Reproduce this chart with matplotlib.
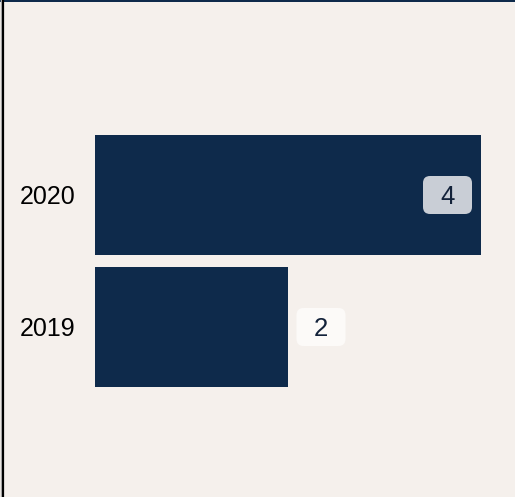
import matplotlib
matplotlib.use("Agg")
import matplotlib.pyplot as plt
import matplotlib.transforms as mtransforms
from matplotlib.patches import FancyBboxPatch, Rectangle
from matplotlib.lines import Line2D

# --- data ---
years = ["2019", "2020"]
counts = [2, 4]

navy = "#0e2a4b"
bg = "#f5f0ec"

plt.rcParams["font.family"] = ["Liberation Sans", "DejaVu Sans"]

W, H = 515, 497
fig = plt.figure(figsize=(W / 100, H / 100), dpi=100, facecolor=bg)

# axes placed in pixel terms: x0 at 95px, 96.5 px per unit; 132 px per category
x_left = 95
x_right = 95 + 4.3 * 96.5
y_top = 63
y_bottom = 63 + 3 * 132
ax = fig.add_axes([x_left / W, 1 - y_bottom / H, (x_right - x_left) / W, (y_bottom - y_top) / H])
ax.set_facecolor(bg)

ypos = list(range(len(years)))
ax.barh(ypos, counts, height=0.91, color=navy)
ax.set_xlim(0, 4.3)
ax.set_ylim(-1, 2)
ax.set_yticks(ypos)
ax.set_yticklabels(years, fontsize=18, color="black")
ax.tick_params(axis="y", length=0, pad=14)
ax.set_xticks([])
for s in ax.spines.values():
    s.set_visible(False)

# value labels in rounded boxes
vmax = max(counts)
for y, v in zip(ypos, counts):
    inside = v > vmax * 0.6
    off = -0.335 if inside else 0.33
    face = "#c9ced6" if inside else "#fcfaf8"
    tr = fig.dpi_scale_trans + mtransforms.ScaledTranslation(v, y, ax.transData)
    box = FancyBboxPatch((off - 0.245, -0.19), 0.49, 0.38,
                         boxstyle="round,pad=0,rounding_size=0.07",
                         transform=tr, facecolor=face, edgecolor="none", zorder=3)
    ax.add_patch(box)
    ax.annotate(str(v), xy=(v, y), xytext=(off * 100, -2), textcoords="offset pixels",
                ha="center", va="center", fontsize=18.5, color="#13223a", zorder=4)

# top navy band and left border line
fig.add_artist(Rectangle((0, 1 - 2 / H), 1, 2 / H, transform=fig.transFigure,
                         facecolor=navy, edgecolor="none"))
fig.add_artist(Line2D([0.8 / W, 0.8 / W], [0, 1], transform=fig.transFigure,
                      color="#b8b8b8", lw=1.0))
fig.add_artist(Line2D([3.2 / W, 3.2 / W], [0, 1], transform=fig.transFigure,
                      color="black", lw=1.6))

fig.savefig("out.png", dpi=100, facecolor=bg)
